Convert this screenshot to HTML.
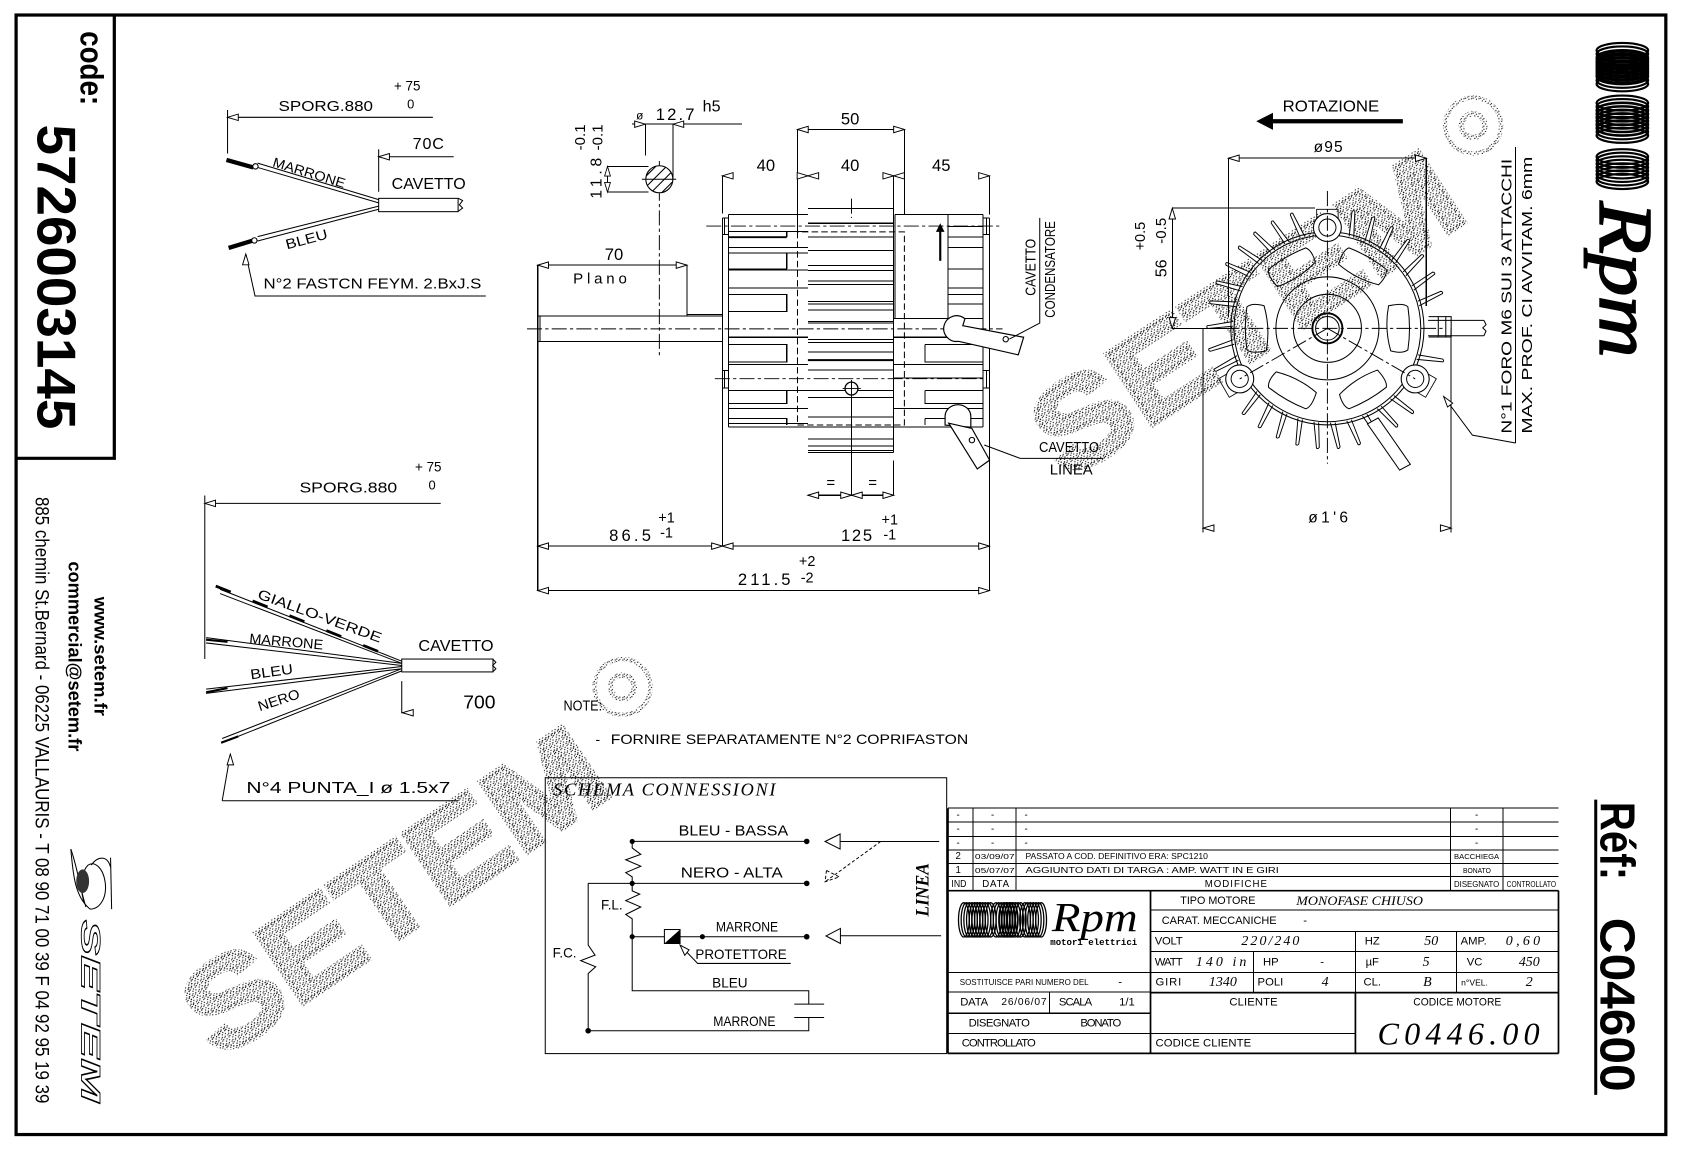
<!DOCTYPE html>
<html><head><meta charset="utf-8"><style>
html,body{margin:0;padding:0;background:#fff}
svg{display:block}
text{font-family:"Liberation Sans",sans-serif;fill:#000;dominant-baseline:central;text-anchor:middle;stroke:none}
.s{text-anchor:start}
.i{font-family:"Liberation Serif",serif;font-style:italic}
.l{fill:none;stroke:#000;stroke-width:.95}
.b{dominant-baseline:alphabetic;text-anchor:start;font-weight:bold}
</style></head><body>
<svg xmlns="http://www.w3.org/2000/svg" width="1683" height="1153" viewBox="0 0 1568 1074.2" preserveAspectRatio="none">
<defs>
<pattern id="st" width="7" height="7" patternUnits="userSpaceOnUse">
<g fill="#000"><rect x="0" y="0" width="1" height="1"/><rect x="3" y="1" width="1" height="1"/><rect x="5.5" y="0.5" width="1" height="1"/><rect x="1.5" y="2.5" width="1" height="1"/><rect x="4.5" y="3" width="1" height="1"/><rect x="0.2" y="4.5" width="1" height="1"/><rect x="3" y="5" width="1" height="1"/><rect x="5.8" y="5.4" width="1" height="1"/><rect x="2" y="6" width=".9" height=".9"/></g>
</pattern>
<path id="a" d="M0,0 L10,-3 V3 Z" fill="#fff" stroke="#000" stroke-width=".9"/>
<path id="fin" d="M-2.6,-88 L-6,-111 Q-5,-113 -3.5,-112 L1.8,-88" fill="#fff" stroke="#000" stroke-width=".9"/>
<path id="slot" d="M57,-21 Q71,-24 75,-20 Q78,0 75,20 Q70,24 59,21 Q53,0 57,-21 Z" fill="none" stroke="#000" stroke-width=".95"/>
<g id="bs"><path d="M-10,-3 V-17 H10 V-3" fill="none" stroke="#000" stroke-width=".8"/><circle r="13" fill="#fff" stroke="#000" stroke-width="1"/><circle r="8" fill="none" stroke="#000" stroke-width=".9"/></g>
<g id="coil" fill="none" stroke="#000" stroke-width="2"><ellipse cx="0" cy="0" rx="24" ry="7"/><ellipse cx="0" cy="3.3" rx="24" ry="7"/><ellipse cx="0" cy="6.6" rx="24" ry="7"/><ellipse cx="0" cy="9.9" rx="24" ry="7"/><ellipse cx="0" cy="13.2" rx="24" ry="7"/><ellipse cx="0" cy="16.5" rx="24" ry="7"/><ellipse cx="0" cy="19.8" rx="24" ry="7"/><ellipse cx="0" cy="23.1" rx="24" ry="7"/></g>
<g id="coilh" fill="none" stroke="#000" stroke-width="1.2"><ellipse cx="0" cy="0" rx="5" ry="16"/><ellipse cx="2.5" cy="0" rx="5" ry="16"/><ellipse cx="5" cy="0" rx="5" ry="16"/><ellipse cx="7.5" cy="0" rx="5" ry="16"/><ellipse cx="10" cy="0" rx="5" ry="16"/><ellipse cx="12.5" cy="0" rx="5" ry="16"/><ellipse cx="15" cy="0" rx="5" ry="16"/></g>
<clipPath id="cs"><circle cx="614.3" cy="167" r="12.6"/></clipPath>
</defs>

<!-- watermarks -->
<text transform="translate(204,988) rotate(-34)" class="b" font-size="115" textLength="447" lengthAdjust="spacingAndGlyphs" style="fill:url(#st);stroke:url(#st);stroke-width:5">SETEM</text>
<text transform="translate(994,448) rotate(-33)" class="b" font-size="115" textLength="450" lengthAdjust="spacingAndGlyphs" style="fill:url(#st);stroke:url(#st);stroke-width:5">SETEM</text>
<circle cx="1372.5" cy="117" r="26" fill="none" stroke="url(#st)" stroke-width="4"/>
<circle cx="1372.5" cy="117" r="11" fill="none" stroke="url(#st)" stroke-width="5"/>
<circle cx="580" cy="640" r="26" fill="none" stroke="url(#st)" stroke-width="4"/>
<circle cx="580" cy="640" r="11" fill="none" stroke="url(#st)" stroke-width="5"/>

<!-- frame -->
<rect x="15" y="14" width="1537" height="1043" fill="none" stroke="#000" stroke-width="3"/>
<path d="M15,427 H106.5 V14" fill="none" stroke="#000" stroke-width="3"/>
<text transform="translate(75,29) rotate(90)" class="b" font-size="30" textLength="69" lengthAdjust="spacingAndGlyphs">code:</text>
<text transform="translate(35,116) rotate(90)" class="b" font-size="51" textLength="284" lengthAdjust="spacingAndGlyphs">5726003145</text>
<text transform="translate(33,463) rotate(90)" class="b" font-size="18.5" style="font-weight:normal" textLength="565" lengthAdjust="spacingAndGlyphs">885 chemin St.Bernard  -  06225 VALLAURIS  -  T 08 90 71 00 39   F 04 92 95 19 39</text>
<text transform="translate(64,523) rotate(90)" class="b" font-size="17.5" textLength="177" lengthAdjust="spacingAndGlyphs">commercial@setem.fr</text>
<text transform="translate(88,556) rotate(90)" class="b" font-size="16.5" textLength="111" lengthAdjust="spacingAndGlyphs">www.setem.fr</text>
<!-- bird -->
<g class="l" fill="none">
<path d="M66,791 C68,815 70,836 84,847 C92,847 100,838 98,822 C96,808 88,802 82,806 C76,812 74,825 78,840"/>
<path d="M103,799 L104,847 M85,806 C90,798 100,796 103,808"/>
<path d="M66,791 C72,808 74,825 80,845"/>
</g>
<ellipse cx="77" cy="821" rx="6" ry="11" fill="#333"/>
<text transform="translate(76,857) rotate(90)" class="b" font-size="25" textLength="170" lengthAdjust="spacingAndGlyphs" style="font-style:italic;fill:#fff;stroke:#000;stroke-width:.8">SETEM</text>

<!-- upper-left wires -->
<g class="l">
<path d="M212,102.5 V143 M212,109.3 H403.3 M352.8,139 V178.6 M352.8,146 H422.7"/>
<rect x="352.8" y="184.8" width="74" height="12.4"/>
<path d="M427,184.8 l4,2 l-3,4 l3,3 l-4,3"/>
<path d="M352.8,186 L240,152 M352.8,189 L240,156 M352.8,192 L240,220.5 M352.8,195 L240,224.5"/>
<path d="M229,236.7 L237.6,275.8 H452.6"/>
</g>
<path d="M211,149 L236,156" stroke="#000" stroke-width="4" fill="none"/>
<path d="M213,231 L236,224" stroke="#000" stroke-width="4" fill="none"/>
<circle cx="238" cy="155" r="2.5" fill="#fff" stroke="#000"/><circle cx="237" cy="224" r="2.5" fill="#fff" stroke="#000"/>
<use href="#a" transform="translate(212,109.3)"/>
<use href="#a" transform="translate(352.8,146)"/>
<use href="#a" transform="translate(229,236.7) rotate(90)"/>
<g font-size="13.5">
<text x="303.5" y="99" textLength="88" font-size="14" lengthAdjust="spacingAndGlyphs">SPORG.880</text>
<text x="379.4" y="80" font-size="12.5">+ 75</text><text x="382.7" y="97" font-size="12">0</text>
<text x="399" y="134" font-size="15" textLength="29">70C</text>
<text x="399.4" y="171.8" font-size="14.5" textLength="69" lengthAdjust="spacingAndGlyphs">CAVETTO</text>
<text transform="translate(288,161) rotate(17)" font-size="12.5" textLength="70" lengthAdjust="spacingAndGlyphs">MARRONE</text>
<text transform="translate(285.5,222.7) rotate(-15)" font-size="13" textLength="40" lengthAdjust="spacingAndGlyphs">BLEU</text>
<text x="347" y="265" font-size="13.5" textLength="203" lengthAdjust="spacingAndGlyphs">N°2 FASTCN FEYM. 2.BxJ.S</text>
</g>

<!-- lower-left wires -->
<g class="l">
<path d="M190.8,461.6 V614 M190.8,469 H410.6 M374.3,634.6 V664 H385"/>
<rect x="374.3" y="614" width="85" height="12"/>
<path d="M459,614 l3,3 l-3,3 l3,3 l-3,3"/>
<path d="M374.3,616 L205,549 M374.3,618 L205,553 M374.3,618 L192,594 M374.3,620 L192,599 M374.3,621 L192,642 M374.3,623 L192,646 M374.3,623 L207,688 M374.3,625 L207,692"/>
<path d="M207,746 L214.6,702.6 M207,746 H427"/>
</g>
<path d="M201,546 L360,610" stroke="#000" stroke-width="2.6" fill="none" stroke-dasharray="15 22"/>
<path d="M192,596 L212,598 M192,645 L212,641 M206,692 L222,686" stroke="#000" stroke-width="2" fill="none"/>
<use href="#a" transform="translate(190.8,469)"/>
<use href="#a" transform="translate(214.6,702.6) rotate(90)"/>
<use href="#a" transform="translate(375,664)"/>
<text x="324.5" y="454.6" font-size="14" textLength="91" lengthAdjust="spacingAndGlyphs">SPORG.880</text>
<text x="399" y="435" font-size="12.5">+ 75</text><text x="402.6" y="452" font-size="12">0</text>
<text transform="translate(298,573.6) rotate(20)" font-size="13" textLength="122" lengthAdjust="spacingAndGlyphs">GIALLO-VERDE</text>
<text transform="translate(266.7,597.5) rotate(5)" font-size="13" textLength="69" lengthAdjust="spacingAndGlyphs">MARRONE</text>
<text transform="translate(253,625.6) rotate(-8)" font-size="13" textLength="40" lengthAdjust="spacingAndGlyphs">BLEU</text>
<text transform="translate(259.6,652) rotate(-18)" font-size="13" textLength="40" lengthAdjust="spacingAndGlyphs">NERO</text>
<text x="424.8" y="602.5" font-size="14.5" textLength="70" lengthAdjust="spacingAndGlyphs">CAVETTO</text>
<text x="446.6" y="654" font-size="17" textLength="30" lengthAdjust="spacingAndGlyphs">700</text>
<text x="324.5" y="734.3" font-size="15" textLength="190" lengthAdjust="spacingAndGlyphs">N°4 PUNTA_I  ø 1.5x7</text>

<!-- motor side view -->
<g class="l" style="shape-rendering:crispEdges">
<path d="M501,294.6 H673 M501,318 H673 M501,294.6 V318 M503,294.6 V318 M640,293 H673"/>
<path d="M640,247 V294.6 M501,247 V294.6 M501,318 V550 M673,163.8 V199 M673,392 V509 M921.8,163.8 V200 M921.8,396 V550 M743,120.6 V216 M842.6,120.6 V200 M832.6,163.8 V200"/>
<path d="M501,247 H640 M743,120.6 H842.6 M501,508.8 H921.8 M501,550.3 H921.8 M752.7,461.4 H832.6 M793.3,370 V461.4 M832.6,429 V461.4"/>
<path d="M678.5,199.8 H752.7 M834,199.8 H916 M678.5,397.6 H916 M678.5,199.8 V397.6 M916,199.8 V397.6 M832.6,194.2 V421.5"/>
<path d="M673,203 V392 M921.8,203 V396 M673,203 H678.5 M673,218.4 H678.5 M673,345.3 H678.5 M673,361.6 H678.5 M916,203 H921.8 M916,218.4 H921.8 M916,345.3 H921.8 M916,361.6 H921.8 M675,203 V218.4 M675,345.3 V361.6 M919,203 V218.4 M919,345.3 V361.6"/>
<path d="M678.5,215.5 H752.7 M678.5,230.8 H752.7 M678.5,235.7 H752.7 M678.5,251.4 H752.7 M678.5,268.5 H752.7 M678.5,314.2 H752.7 M678.5,339.7 H752.7 M678.5,363.9 H752.7 M678.5,380.6 H752.7 M678.5,394.5 H752.7"/>
<path d="M733,215.5 V221 M733,236.4 V250.4 M678.5,250.4 H733 M678.5,274.3 H733 V290 H678.5 M678.5,321 H733 V337.1 H678.5 M733,364 V375.7 H678.5 M678.5,390.1 H733 V396"/>
<path d="M752.7,194.2 H832.6 M752.7,208 H832.6 M752.7,221 H832.6 M752.7,233.5 H832.6 M752.7,247.2 H832.6 M752.7,252 H832.6 M752.7,261.9 H832.6 M752.7,265.2 H832.6 M752.7,280.9 H832.6 M752.7,283.2 H832.6 M752.7,288.7 H832.6 M752.7,299.5 H832.6 M752.7,301.1 H832.6 M752.7,316.5 H832.6 M752.7,319.1 H832.6 M752.7,328 H832.6 M752.7,344.6 H832.6 M752.7,363.9 H832.6 M752.7,370.5 H832.6 M752.7,388.5 H832.6 M752.7,409 H832.6 M752.7,415.6 H832.6 M752.7,419.5 H832.6 M752.7,421.5 H832.6"/>
<path d="M834,199.8 V296.9 M883,199.8 V296.9 M832.6,296.9 H916 M883,211.2 H916 M883,221 H916 M883,230.8 H916 M883,250.4 H916 M883,268.5 H916 M883,274.3 H916 M883,283.2 H916"/>
<path d="M832.6,314.2 H916 M832.6,339.7 H916 M832.6,380.6 H916 M862,321 H916 M862,321 V337.1 H916 M862,364 V375.7 H916 M862,364 H916 M862,390 V396 M862,390 H916 M832.6,352 H916"/>
<path d="M566,155 H604.3 M566,179 H604.3 M589,115.7 H691.5 M601.3,115.7 V145 M627,115.7 V167"/>
<path d="M566,155 V179"/>
</g>
<path d="M678.5,221 H733" stroke="#000" stroke-width="1.8"/>
<path d="M752.7,335.5 H832.6" stroke="#000" stroke-width="1.8"/>
<path d="M743,216 V396 H842.6 V216 H743" fill="none" stroke="#000" stroke-width=".95" stroke-dasharray="6 3"/>
<g fill="none" stroke="#000" stroke-width=".9" stroke-dasharray="14 3 3 3">
<path d="M491,306.4 H934 M658,210.6 H932 M666,352.8 H917 M614.3,150 V334"/>
<path d="M793.3,185 V203"/>
</g>
<circle cx="614.3" cy="167" r="12.6" fill="#fff" stroke="#000" stroke-width="1"/>
<g clip-path="url(#cs)" stroke="#000" stroke-width="1"><path d="M596,170 L618,148 M600,176 L624,152 M606,180 L632,154 M612,184 L636,160 M618,186 L640,164"/></g>
<path d="M598,167 H630" stroke="#000" stroke-width=".9"/>
<circle cx="793.3" cy="362" r="6" fill="#fff" stroke="#000" stroke-width="1.2"/>
<path d="M785,362 H802 M793.3,354 V371" stroke="#000" stroke-width=".9"/>
<path d="M876,243 V214" stroke="#000" stroke-width="2"/><path d="M876,208 L880,216 H872 Z" fill="#000"/>
<g fill="#fff" stroke="#000" stroke-width="1.1">
<path d="M899,297 A12,12 0 1 0 893,318 L948.7,330.6 L953.7,314.2 L897,303.4 Z"/>
<path d="M880.5,396 V388 A12,11 0 0 1 904.5,388 V398 Z"/>
<path d="M883.9,394.3 L905.5,399.2 L922,428.7 L910.5,436.9 Z"/>
</g>
<circle cx="937" cy="316" r="2.5" fill="none" stroke="#000"/>
<circle cx="905.5" cy="410" r="2.5" fill="none" stroke="#000"/>
<path d="M940.4,315.9 L968.7,301 V203 M917,414.6 L950.4,427 H1028" class="l"/>
<use href="#a" transform="translate(501,247)"/><use href="#a" transform="translate(640,247) scale(-1,1)"/>
<use href="#a" transform="translate(601.3,115.7) scale(-1,1)"/><use href="#a" transform="translate(627,115.7)"/>
<use href="#a" transform="translate(566,155) rotate(90) scale(.9)"/><use href="#a" transform="translate(566,179) rotate(-90) scale(.9)"/>
<use href="#a" transform="translate(743,120.6)"/><use href="#a" transform="translate(842.6,120.6) scale(-1,1)"/>
<use href="#a" transform="translate(673,163.8)"/><use href="#a" transform="translate(752.7,163.8) scale(-1,1)"/><use href="#a" transform="translate(752.7,163.8)"/>
<use href="#a" transform="translate(832.6,163.8) scale(-1,1)"/><use href="#a" transform="translate(832.6,163.8)"/><use href="#a" transform="translate(921.8,163.8) scale(-1,1)"/>
<use href="#a" transform="translate(501,508.8)"/><use href="#a" transform="translate(673,508.8) scale(-1,1)"/><use href="#a" transform="translate(673,508.8)"/><use href="#a" transform="translate(921.8,508.8) scale(-1,1)"/>
<use href="#a" transform="translate(501,550.3)"/><use href="#a" transform="translate(921.8,550.3) scale(-1,1)"/>
<use href="#a" transform="translate(752.7,461.4)"/><use href="#a" transform="translate(793.3,461.4) scale(-1,1)"/><use href="#a" transform="translate(793.3,461.4)"/><use href="#a" transform="translate(832.6,461.4) scale(-1,1)"/>
<text x="629" y="106.6" font-size="15.5" textLength="36">12.7</text><text x="596" y="107.6" font-size="11">ø</text><text x="663" y="99.4" font-size="15">h5</text>
<text transform="translate(541,128) rotate(-90)" font-size="14">-0.1</text>
<text transform="translate(557,128) rotate(-90)" font-size="14">-0.1</text>
<text transform="translate(556,166) rotate(-90)" font-size="14.5" textLength="38">11.8</text>
<text x="792" y="111" font-size="15.5">50</text><text x="713.5" y="154" font-size="15.5">40</text><text x="792" y="154" font-size="15.5">40</text><text x="877" y="154" font-size="15.5">45</text>
<text x="572" y="237" font-size="15.5">70</text><text x="559" y="260" font-size="14" textLength="50">Plano</text>
<text x="774" y="450" font-size="14">=</text><text x="813" y="450" font-size="14">=</text>
<text x="587" y="499" font-size="15.5" textLength="39">86.5</text><text x="621" y="483" font-size="13.5">+1</text><text x="621" y="497" font-size="13.5">-1</text>
<text x="798" y="499" font-size="15.5" textLength="29">125</text><text x="829" y="485" font-size="13.5">+1</text><text x="829" y="499" font-size="13.5">-1</text>
<text x="712" y="540" font-size="15.5" textLength="49">211.5</text><text x="752" y="523.5" font-size="13.5">+2</text><text x="752" y="539" font-size="13.5">-2</text>
<text transform="translate(961,249) rotate(-90)" font-size="13.5" textLength="53" lengthAdjust="spacingAndGlyphs">CAVETTO</text>
<text transform="translate(979.4,251) rotate(-90)" font-size="13.5" textLength="90" lengthAdjust="spacingAndGlyphs">CONDENSATORE</text>
<text x="996" y="417" font-size="14" textLength="56" lengthAdjust="spacingAndGlyphs">CAVETTO</text>
<text x="998" y="438" font-size="14" textLength="40" lengthAdjust="spacingAndGlyphs">LINEA</text>

<!-- end view -->
<g>
<use href="#fin" transform="translate(1236.7,305.9) rotate(-15)"/>
<use href="#fin" transform="translate(1236.7,305.9) rotate(-25)"/>
<use href="#fin" transform="translate(1236.7,305.9) rotate(-35)"/>
<use href="#fin" transform="translate(1236.7,305.9) rotate(-45)"/>
<use href="#fin" transform="translate(1236.7,305.9) rotate(-55)"/>
<use href="#fin" transform="translate(1236.7,305.9) rotate(-65)"/>
<use href="#fin" transform="translate(1236.7,305.9) rotate(-75)"/>
<use href="#fin" transform="translate(1236.7,305.9) rotate(-87)"/>
<use href="#fin" transform="translate(1236.7,305.9) rotate(-98)"/>
<use href="#fin" transform="translate(1236.7,305.9) rotate(-108)"/>
<use href="#fin" transform="translate(1236.7,305.9) rotate(-133)"/>
<use href="#fin" transform="translate(1236.7,305.9) rotate(-143)"/>
<use href="#fin" transform="translate(1236.7,305.9) rotate(-153)"/>
<use href="#fin" transform="translate(1236.7,305.9) rotate(-163)"/>
<use href="#fin" transform="translate(1236.7,305.9) rotate(-173)"/>
<use href="#fin" transform="translate(1236.7,305.9) rotate(177)"/>
<use href="#fin" transform="translate(1236.7,305.9) rotate(167)"/>
<use href="#fin" transform="translate(1236.7,305.9) rotate(157)"/>
<use href="#fin" transform="translate(1236.7,305.9) rotate(147)"/>
<use href="#fin" transform="translate(1236.7,305.9) rotate(137)"/>
<use href="#fin" transform="translate(1236.7,305.9) rotate(108)"/>
<use href="#fin" transform="translate(1236.7,305.9) rotate(75)"/>
<use href="#fin" transform="translate(1236.7,305.9) rotate(65)"/>
<use href="#fin" transform="translate(1236.7,305.9) rotate(55)"/>
<use href="#fin" transform="translate(1236.7,305.9) rotate(45)"/>
<use href="#fin" transform="translate(1236.7,305.9) rotate(35)"/>
<use href="#fin" transform="translate(1236.7,305.9) rotate(25)"/>
<use href="#fin" transform="translate(1236.7,305.9) rotate(15)"/>
</g>
<path d="M1284,389.4 L1314,432.6 L1304,438 L1274,395 Z" fill="#fff" stroke="#000" stroke-width=".95"/>
<g fill="none" stroke="#000" stroke-width=".95">
<circle cx="1236.7" cy="305.9" r="90"/><circle cx="1236.7" cy="305.9" r="87"/><circle cx="1236.7" cy="305.9" r="48"/><circle cx="1236.7" cy="305.9" r="31.7"/>
<circle cx="1236.7" cy="305.9" r="14" stroke-width="1.8"/><circle cx="1236.7" cy="305.9" r="11"/>
<path d="M1330.5,298.5 H1382.5 M1330.5,312.8 H1382.5 M1382.5,298.5 l2,4 l-3,3 l3,3 l-2,4.3 M1331,295 H1352 V314 H1331 M1340,295 V314 M1347,295 V314"/>
</g>
<use href="#slot" transform="translate(1236.7,305.9) rotate(0)"/>
<use href="#slot" transform="translate(1236.7,305.9) rotate(180)"/>
<use href="#slot" transform="translate(1236.7,305.9) rotate(60)"/>
<use href="#slot" transform="translate(1236.7,305.9) rotate(-60)"/>
<use href="#slot" transform="translate(1236.7,305.9) rotate(120)"/>
<use href="#slot" transform="translate(1236.7,305.9) rotate(-120)"/>
<use href="#bs" transform="translate(1236.7,212)"/>
<use href="#bs" transform="translate(1155,353) rotate(-120)"/>
<use href="#bs" transform="translate(1318.5,353) rotate(120)"/>
<path d="M1236.7,178 V432 M1140,305.9 H1345 M1236.7,305.9 L1155,353 M1236.7,305.9 L1318.5,353" fill="none" stroke="#000" stroke-width=".9" stroke-dasharray="14 3 3 3"/>
<g class="l" style="shape-rendering:crispEdges">
<path d="M1144.5,147.4 H1328.8 M1144.5,147.4 V296 M1328.8,147.4 V285 M1092.2,194 H1225 M1092.2,194 V305.9 M1092.2,305.9 H1150 M1121,306 V496 M1352,306 V496 M1412,137 V412.7"/>
</g>
<use href="#a" transform="translate(1144.5,147.4)"/><use href="#a" transform="translate(1328.8,147.4) scale(-1,1)"/>
<use href="#a" transform="translate(1092.2,194) rotate(90)"/><use href="#a" transform="translate(1092.2,305.9) rotate(-90)"/>
<use href="#a" transform="translate(1121,492)"/><use href="#a" transform="translate(1352,492) scale(-1,1)"/>
<path d="M1412,412.7 L1371.8,405.4 L1345,369.4" class="l"/>
<use href="#a" transform="translate(1345,369.4) rotate(53)"/>
<path d="M1183,113 H1307" stroke="#000" stroke-width="4"/><path d="M1170.4,113 L1186,105 V121 Z" fill="#000"/>
<text x="1240" y="99.8" font-size="14.5" textLength="90" lengthAdjust="spacingAndGlyphs">ROTAZIONE</text>
<text x="1237.4" y="137.4" font-size="14.5" textLength="27">ø95</text>
<text x="1237.4" y="482.6" font-size="14.5" textLength="37">ø1'6</text>
<text transform="translate(1063,220) rotate(-90)" font-size="13.5">+0.5</text>
<text transform="translate(1082,215) rotate(-90)" font-size="14">-0.5</text>
<text transform="translate(1082,250) rotate(-90)" font-size="15">56</text>
<text transform="translate(1404,276) rotate(-90)" font-size="14" textLength="256" lengthAdjust="spacingAndGlyphs">N°1 FORO M6 SUI 3 ATTACCHI</text>
<text transform="translate(1423,275) rotate(-90)" font-size="14" textLength="258" lengthAdjust="spacingAndGlyphs">MAX. PROF. CI AVVITAM. 6mm</text>

<!-- right logo -->
<use href="#coil" x="1511.5" y="47"/><use href="#coil" x="1511.5" y="55"/><use href="#coil" x="1511.5" y="96"/><use href="#coil" x="1511.5" y="103"/><use href="#coil" x="1511.5" y="146"/>
<text transform="translate(1491,188) rotate(90)" class="b i" font-size="70" textLength="145" lengthAdjust="spacingAndGlyphs" style="font-weight:normal;stroke:#000;stroke-width:1.8">Rpm</text>
<text transform="translate(1491,747) rotate(90)" class="b" font-size="46" textLength="73" lengthAdjust="spacingAndGlyphs">Réf:</text>
<text transform="translate(1491,855) rotate(90)" class="b" font-size="46" textLength="162" lengthAdjust="spacingAndGlyphs">C04600</text>
<path d="M1486.7,745 V1020" stroke="#000" stroke-width="2.8"/>

<!-- note + schema -->
<text x="543" y="658.4" font-size="13.5" textLength="36" lengthAdjust="spacingAndGlyphs">NOTE:</text>
<text x="557" y="688.6" font-size="13">-</text>
<text class="s" x="569" y="688.6" font-size="13" textLength="333" lengthAdjust="spacingAndGlyphs">FORNIRE SEPARATAMENTE N°2 COPRIFASTON</text>
<text class="s i" x="515.5" y="735.5" font-size="17" textLength="207" lengthAdjust="spacing">SCHEMA CONNESSIONI</text>
<g class="l">
<rect x="508" y="724.6" width="374" height="257"/>
<path d="M589,783.9 H751.6 M548,823 H751.6 M589,872.7 H751.6"/>
<path d="M589,783.9 V790 L597,796 L583,801 L597,807 L583,813 L589,817 V823 V830 L596,833 L583,839 L597,845 L583,852 L589,856 V923 H753.5 V935.5 M740,935.5 H767.8 M740,948 H767.8 M753.5,948 V960.3 H548"/>
<path d="M548,823 V880.5 L554.4,889.8 L541,895 L555,900.7 L548,907 V960.3"/>
<path d="M782.7,784 H875 M783,871.8 H876.8"/>
<path d="M768.7,784 L782.7,777 V791 Z M769.6,872 L783,865 V879 Z"/>
<path d="M633.6,880.5 L650,897.6 H736.7"/>
<rect x="619" y="866" width="14.6" height="13" fill="#fff"/>
</g>
<path d="M633.6,866 V879 H619 Z" fill="#000"/>
<path d="M820.5,784 L768.7,821.5 M770,811 L782,817 L768.7,821.5 L770,811" fill="none" stroke="#000" stroke-width=".9" stroke-dasharray="3 2"/>
<path d="M633.6,880.5 L642,885 L638,890 Z" fill="#fff" stroke="#000" stroke-width=".9"/>
<g fill="#000"><circle cx="589" cy="783.9" r="2.4"/><circle cx="751.6" cy="783.9" r="2.6"/><circle cx="589" cy="823" r="2.4"/><circle cx="751.6" cy="823" r="2.6"/><circle cx="589" cy="872.7" r="2.4"/><circle cx="654.4" cy="872.7" r="2.4"/><circle cx="751.6" cy="872.7" r="2.6"/><circle cx="548" cy="960.3" r="2.6"/></g>
<text x="683.3" y="774.9" font-size="13.5" textLength="102" lengthAdjust="spacingAndGlyphs">BLEU - BASSA</text>
<text x="681.7" y="813.7" font-size="13.5" textLength="95" lengthAdjust="spacingAndGlyphs">NERO - ALTA</text>
<text x="696" y="863.4" font-size="13" textLength="58" lengthAdjust="spacingAndGlyphs">MARRONE</text>
<text x="690.4" y="888.9" font-size="13" textLength="85" lengthAdjust="spacingAndGlyphs">PROTETTORE</text>
<text x="680" y="915.3" font-size="13" textLength="33" lengthAdjust="spacingAndGlyphs">BLEU</text>
<text x="693.5" y="951.3" font-size="13" textLength="58" lengthAdjust="spacingAndGlyphs">MARRONE</text>
<text x="570" y="843" font-size="12.5">F.L.</text><text x="526" y="888" font-size="12.5">F.C.</text>
<text transform="translate(860,829) rotate(-90)" class="i" font-size="18" textLength="50" style="font-weight:bold" lengthAdjust="spacingAndGlyphs">LINEA</text>

<!-- title block -->
<g class="l" style="shape-rendering:crispEdges">
<path d="M883,753 H1452 M883,766 H1452 M883,779.5 H1452 M883,792 H1452 M883,804.3 H1452 M883,816.8 H1452"/>
<path d="M906.4,753 V829.8 M946.4,753 V829.8 M1351.4,753 V829.8 M1400.4,753 V829.8"/>
<path d="M1071.9,848 H1452 M1071.9,867.7 H1452 M1071.9,886.6 H1452 M1071.9,905.9 H1452 M1071.9,962.7 H1262.8 M883,905.9 H1071.9 M883,924.2 H1071.9 M883,944 H1071.9 M883,962.7 H1071.9"/>
<path d="M1262.8,867.7 V981.4 M1357,867.7 V924.8 M1167.9,886.6 V924.8 M977.7,924.2 V944"/>
</g>
<path d="M883,753 V981.4" stroke="#000" stroke-width="2"/>
<path d="M883,829.8 H1452 M1071.9,829.8 V981.4 M1071.9,924.8 H1452 M1452,829.8 V981.4 M883,981.4 H1452 M1262.8,924.8 V981.4" stroke="#000" stroke-width="1.6" fill="none"/>
<g font-size="9">
<text x="892.7" y="760">-</text><text x="924.8" y="760">-</text><text x="956" y="760">-</text><text x="1375.7" y="760">-</text>
<text x="892.7" y="772.6">-</text><text x="924.8" y="772.6">-</text><text x="956" y="772.6">-</text><text x="1375.7" y="772.6">-</text>
<text x="892.7" y="785.7">-</text><text x="924.8" y="785.7">-</text><text x="956" y="785.7">-</text><text x="1375.7" y="785.7">-</text>
<text x="892.7" y="798">2</text><text x="926.8" y="798" font-size="7" textLength="37" lengthAdjust="spacingAndGlyphs">03/09/07</text>
<text class="s" x="955.4" y="798" font-size="7.5" textLength="170" lengthAdjust="spacingAndGlyphs">PASSATO A COD. DEFINITIVO ERA: SPC1210</text>
<text x="1375.7" y="798" font-size="7" textLength="42" lengthAdjust="spacingAndGlyphs">BACCHIEGA</text>
<text x="892.7" y="810.9">1</text><text x="926.8" y="810.9" font-size="7" textLength="37" lengthAdjust="spacingAndGlyphs">05/07/07</text>
<text class="s" x="955.4" y="810.9" font-size="7.5" textLength="236" lengthAdjust="spacingAndGlyphs">AGGIUNTO DATI DI TARGA : AMP. WATT IN E GIRI</text>
<text x="1376" y="810.9" font-size="7" textLength="26" lengthAdjust="spacingAndGlyphs">BONATO</text>
<text x="893.4" y="823.9" textLength="14" lengthAdjust="spacingAndGlyphs">IND</text><text x="927.6" y="823.9" textLength="25">DATA</text>
<text x="1151.4" y="823.9" textLength="58">MODIFICHE</text>
<text x="1375.7" y="823.9" font-size="7.5" textLength="42" lengthAdjust="spacingAndGlyphs">DISEGNATO</text>
<text x="1426.7" y="823.9" font-size="7.5" textLength="46" lengthAdjust="spacingAndGlyphs">CONTROLLATO</text>
</g>
<g>
<use href="#coilh" x="898" y="857"/><use href="#coilh" x="908" y="857"/><use href="#coilh" x="928" y="857"/><use href="#coilh" x="936" y="857"/><use href="#coilh" x="955" y="857"/>
<text class="i" x="1020" y="855" font-size="38" textLength="80" lengthAdjust="spacingAndGlyphs">Rpm</text>
<text x="1019" y="878" font-size="8.5" textLength="81" style="font-family:'Liberation Mono',monospace;font-weight:bold" lengthAdjust="spacingAndGlyphs">motori elettrici</text>
</g>
<g font-size="10.5">
<text class="s" x="894.2" y="915.2" font-size="7.5" textLength="120" lengthAdjust="spacingAndGlyphs">SOSTITUISCE PARI NUMERO DEL</text><text x="1043.6" y="915.2">-</text>
<text class="s" x="894.6" y="934.2" textLength="26">DATA</text><text x="954" y="934.2" font-size="9.5" textLength="42">26/06/07</text><text x="1002" y="934.2" textLength="31">SCALA</text><text x="1050" y="934.2">1/1</text>
<text class="s" x="902.5" y="953.4" textLength="57">DISEGNATO</text><text x="1025.6" y="953.4" textLength="38">BONATO</text>
<text class="s" x="896" y="972" textLength="69">CONTROLLATO</text>
<text x="1134.6" y="839.4" textLength="70" lengthAdjust="spacingAndGlyphs">TIPO MOTORE</text>
<text class="i" x="1266.7" y="839.4" font-size="12" textLength="118" lengthAdjust="spacingAndGlyphs">MONOFASE CHIUSO</text>
<text class="s" x="1082.4" y="858" textLength="107" lengthAdjust="spacingAndGlyphs">CARAT. MECCANICHE</text><text x="1216" y="858">-</text>
<text class="s" x="1075.8" y="877.3" textLength="26">VOLT</text><text class="i" x="1183.6" y="877.3" font-size="13" textLength="54">220/240</text>
<text x="1278.5" y="877.3">HZ</text><text class="i" x="1333.4" y="877.3" font-size="13">50</text><text x="1373" y="877.3">AMP.</text><text class="i" x="1418.9" y="877.3" font-size="13" textLength="32">0,60</text>
<text class="s" x="1075.8" y="896.6" textLength="26">WATT</text><text class="i" x="1137.7" y="896.6" font-size="13" textLength="47">140 in</text>
<text x="1184" y="896.6">HP</text><text x="1231.8" y="896.6">-</text><text x="1278.5" y="896.6">µF</text><text class="i" x="1328.7" y="896.6" font-size="13">5</text><text x="1373.8" y="896.6">VC</text><text class="i" x="1424.8" y="896.6" font-size="13">450</text>
<text class="s" x="1076.6" y="915.2" textLength="24">GIRI</text><text class="i" x="1139.3" y="915.2" font-size="13">1340</text>
<text x="1183.6" y="915.2">POLI</text><text class="i" x="1234.6" y="915.2" font-size="13">4</text><text x="1278.5" y="915.2">CL.</text><text class="i" x="1329.8" y="915.2" font-size="13">B</text><text x="1373.8" y="915.2" font-size="8">n°VEL.</text><text class="i" x="1424.8" y="915.2" font-size="13">2</text>
<text x="1167.9" y="934.2" textLength="45">CLIENTE</text><text x="1357.7" y="934.2" textLength="82" lengthAdjust="spacingAndGlyphs">CODICE MOTORE</text>
<text class="s" x="1076.6" y="972" textLength="89">CODICE CLIENTE</text>
<text class="i" x="1358.9" y="962.7" font-size="30" textLength="151" lengthAdjust="spacing">C0446.00</text>
</g>
</svg>
</body></html>
